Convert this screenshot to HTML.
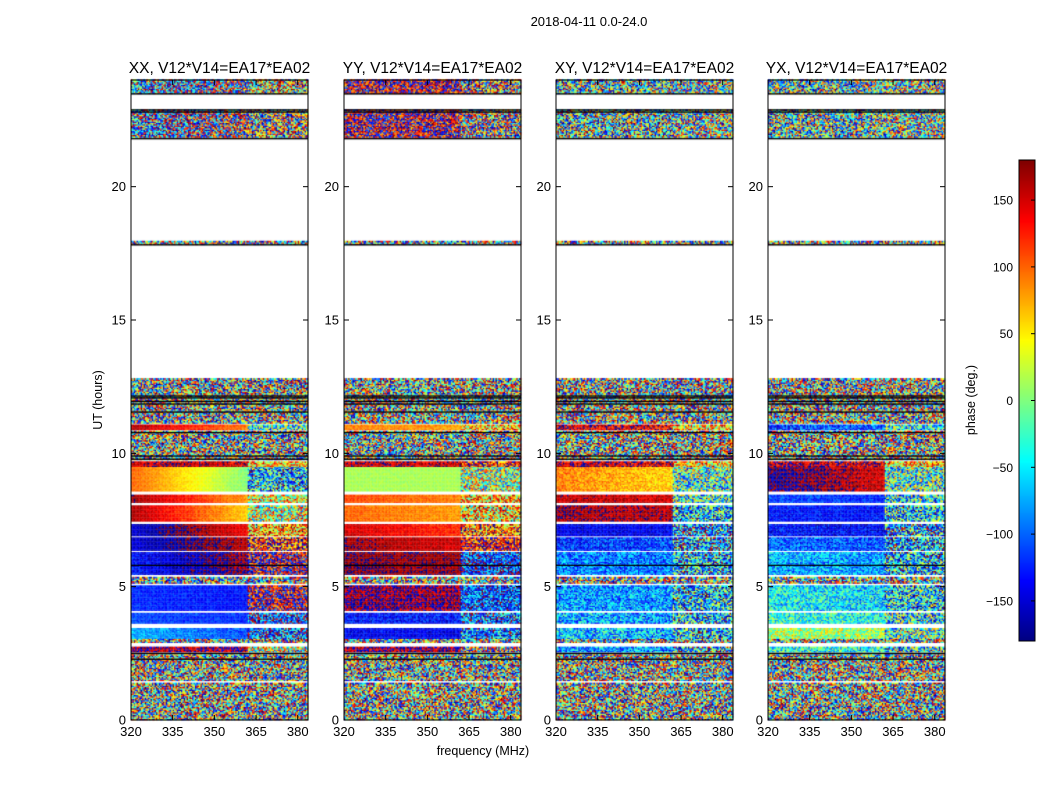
<!DOCTYPE html>
<html><head><meta charset="utf-8">
<style>
body{margin:0;background:#fff;width:1050px;height:800px;overflow:hidden;font-family:"Liberation Sans",sans-serif}
#wrap{position:relative;width:1050px;height:800px}
canvas,svg{position:absolute;left:0;top:0}
</style></head>
<body><div id="wrap">
<canvas id="cv" width="1050" height="800"></canvas>
<svg id="sv" width="1050" height="800"></svg>
</div>
<script>
// ---- data ----
const panelTitles = ["XX, V12*V14=EA17*EA02","YY, V12*V14=EA17*EA02","XY, V12*V14=EA17*EA02","YX, V12*V14=EA17*EA02"];
const xTicks = [320,335,350,365,380];
const yTicks = [0,5,10,15,20];
const cbTicks = [150,100,50,0,-50,-100,-150];
// time bands [start hour, end hour]
const bandStart = [0.0,1.47,2.55,2.9,3.05,3.62,4.1,5.12,5.45,6.35,6.9,7.45,8.15,8.58,9.5,9.75,10.88,11.12,17.82,21.8,23.48];
const bandEnd   = [1.4,2.5,2.72,3.02,3.45,4.0,5.05,5.35,6.3,6.85,7.35,8.05,8.45,9.5,9.68,10.85,11.08,12.8,17.95,22.9,24.0];
// per panel per band: [phase@320, phase@362, phase right of 362, noise left, noise right]
const xxVals = [[0,0,0,1,1],[0,0,0,1,1],[170,170,20,0.3,0.8],[0,0,0,1,1],[-70,-110,-110,0.15,0.6],[-110,-120,-120,0.1,0.6],[-120,-130,170,0.1,0.6],[0,0,0,1,1],[-130,170,170,0.15,0.6],[-150,160,120,0.1,0.6],[-150,140,80,0.1,0.6],[165,60,20,0.08,0.7],[170,80,40,0.08,0.6],[100,0,-70,0.06,0.7],[160,150,60,0.2,0.5],[0,0,0,1,1],[160,90,-30,0.1,0.6],[0,0,0,1,1],[0,0,0,1,1],[-100,160,140,0.8,0.9],[-90,170,60,0.8,0.9]];
const yyVals = [[0,0,0,1,1],[0,0,0,1,1],[170,170,160,0.3,0.8],[0,0,0,1,1],[-140,-140,-100,0.15,0.6],[-130,-130,-110,0.2,0.6],[175,175,-110,0.25,0.5],[0,0,0,1,1],[175,170,-120,0.1,0.5],[170,150,140,0.1,0.5],[150,120,100,0.1,0.6],[100,80,60,0.08,0.7],[110,90,70,0.08,0.6],[15,15,10,0.05,0.7],[160,150,130,0.2,0.5],[0,0,0,1,1],[90,80,60,0.1,0.6],[0,0,0,1,1],[0,0,0,1,1],[170,160,150,0.6,0.9],[170,160,150,0.6,0.9]];
const xyVals = [[0,0,0,1,1],[0,0,0,1,1],[-80,-80,-80,0.4,0.8],[0,0,0,1,1],[-60,-70,-60,0.4,0.7],[-70,-80,-70,0.4,0.7],[-80,-80,-70,0.35,0.7],[0,0,0,1,1],[-90,-95,-80,0.3,0.7],[-120,-110,-90,0.25,0.7],[-145,-140,-100,0.15,0.7],[170,160,-60,0.15,0.7],[160,150,-40,0.15,0.7],[90,60,-20,0.15,0.7],[160,150,60,0.3,0.6],[0,0,0,1,1],[150,140,60,0.3,0.6],[0,0,0,1,1],[0,0,0,1,1],[-60,-40,0,0.9,0.9],[-60,-40,0,0.9,0.9]];
const yxVals = [[0,0,0,1,1],[0,0,0,1,1],[-40,-40,-40,0.4,0.8],[0,0,0,1,1],[20,10,-20,0.35,0.7],[-30,-40,-40,0.35,0.7],[-40,-60,-60,0.35,0.7],[0,0,0,1,1],[-70,-80,-70,0.3,0.7],[-100,-110,-80,0.25,0.7],[-130,-140,-90,0.2,0.7],[-130,-130,-60,0.15,0.7],[-110,-120,-40,0.15,0.7],[-170,150,-20,0.15,0.7],[160,150,60,0.3,0.6],[0,0,0,1,1],[-120,-100,-40,0.3,0.6],[0,0,0,1,1],[0,0,0,1,1],[-40,-20,0,0.9,0.9],[-40,-20,0,0.9,0.9]];
const blackLines = [2.28,2.5,5.8,9.78,9.9,10.78,11.55,11.85,11.95,12.08,12.15,17.82,21.8,22.8,22.88,23.48];
const panelVals = [xxVals,yyVals,xyVals,yxVals];
// ---- layout ----
const panelX0=[131,344,556,768], PW=177, PY0=80, PY1=720;
const F0=320, F1=383.7, T1=24, FSPLIT=362;
function xS(p,f){return panelX0[p]+(f-F0)/(F1-F0)*PW;}
function yS(h){return PY1-h/T1*(PY1-PY0);}
function jet(v){
  function c(x){return Math.max(0,Math.min(1,x));}
  const r=c(1.5-Math.abs(4*v-3)), g=c(1.5-Math.abs(4*v-2)), b=c(1.5-Math.abs(4*v-1));
  return [r*255|0,g*255|0,b*255|0];
}
function angLerp(a,b,t){let d=((b-a)%360+540)%360-180;return a+d*t;}
function hash(a,b,c){let h=(a*374761393+b*668265263+c*2147483647)|0;h=(h^(h>>>13))*1274126177|0;h=h^(h>>>16);return ((h>>>0)%10000)/10000;}
const ctx=document.getElementById('cv').getContext('2d');
ctx.fillStyle='#fff';ctx.fillRect(0,0,1050,800);
const dF=0.5, dT=0.05;
for(let p=0;p<4;p++){
  const vals=panelVals[p];
  for(let b=0;b<bandStart.length;b++){
    const v=vals[b];
    for(let t=bandStart[b];t<bandEnd[b]-1e-9;t+=dT){
      const ti=Math.round(t/dT);
      for(let f=F0;f<F1;f+=dF){
        const fi=Math.round(f*2);
        let ph,n;
        if(f<FSPLIT){ph=angLerp(v[0],v[1],(f-F0)/(FSPLIT-F0));n=v[3];}
        else{ph=v[2];n=v[4];}
        ph+= (hash(fi,ti,p+1)-0.5)*360*n;
        ph=((ph+180)%360+360)%360;
        const col=jet(ph/360);
        ctx.fillStyle='rgb('+col[0]+','+col[1]+','+col[2]+')';
        const x0=xS(p,f), x1=xS(p,Math.min(f+dF,F1));
        const y0=yS(t+dT), y1=yS(t);
        ctx.fillRect(x0,y0,x1-x0+0.3,y1-y0+0.3);
      }
    }
  }
  ctx.fillStyle='#000';
  for(const h of blackLines){ctx.fillRect(panelX0[p],yS(h)-0.6,PW,1.3);}
}
for(let y=160;y<641;y++){const c=jet(1-(y-160)/481);ctx.fillStyle='rgb('+c[0]+','+c[1]+','+c[2]+')';ctx.fillRect(1019,y,16,1);}
// ---- svg overlay ----
const NS='http://www.w3.org/2000/svg', sv=document.getElementById('sv');
function mk(tag,at,txt){const e=document.createElementNS(NS,tag);for(const k in at)e.setAttribute(k,at[k]);if(txt!==undefined)e.textContent=txt;sv.appendChild(e);return e;}
let e=mk('text',{x:589,y:26,'font-size':13,'text-anchor':'middle'},'2018-04-11 0.0-24.0');


for(let p=0;p<4;p++){
  const x0=panelX0[p];
  e=mk('rect',{x:x0,y:PY0,width:PW,height:PY1-PY0,fill:'none',stroke:'#000','stroke-width':1});
  
  
  e=mk('text',{x:x0+PW/2,y:73,'font-size':15.5,'text-anchor':'middle'},panelTitles[p]);
  
  
  for(const f of xTicks){const x=xS(p,f);
    e=mk('line',{x1:x,x2:x,y1:PY1,y2:PY1-5,stroke:'#000'});
    
    
    mk('line',{x1:x,x2:x,y1:PY0,y2:PY0+5,stroke:'#000'});
    e=mk('text',{x:x,y:736,'font-size':13,'text-anchor':'middle'},String(f));
    
    }
  for(const h of yTicks){const y=yS(h);
    e=mk('line',{x1:x0,x2:x0+5,y1:y,y2:y,stroke:'#000'});
    
    
    mk('line',{x1:x0+PW,x2:x0+PW-5,y1:y,y2:y,stroke:'#000'});
    e=mk('text',{x:x0-5,y:y+4.5,'font-size':13,'text-anchor':'end'},String(h));
    
    }
}
e=mk('text',{x:483,y:755,'font-size':12.5,'text-anchor':'middle'},'frequency (MHz)');


e=mk('text',{x:102,y:400,'font-size':12.5,'text-anchor':'middle',transform:'rotate(-90 102 400)'},'UT (hours)');


e=mk('rect',{x:1019,y:160,width:16,height:481,fill:'none',stroke:'#000'});


for(const v of cbTicks){const y=160+(180-v)/360*481;
  e=mk('line',{x1:1035,x2:1031,y1:y,y2:y,stroke:'#000'});
  
  
  e=mk('text',{x:1013,y:y+4.5,'font-size':12,'text-anchor':'end'},v<0?'\u2212'+(-v):String(v));
  
  }
e=mk('text',{x:975,y:400,'font-size':12.5,'text-anchor':'middle',transform:'rotate(-90 975 400)'},'phase (deg.)');


</script>
</body></html>
